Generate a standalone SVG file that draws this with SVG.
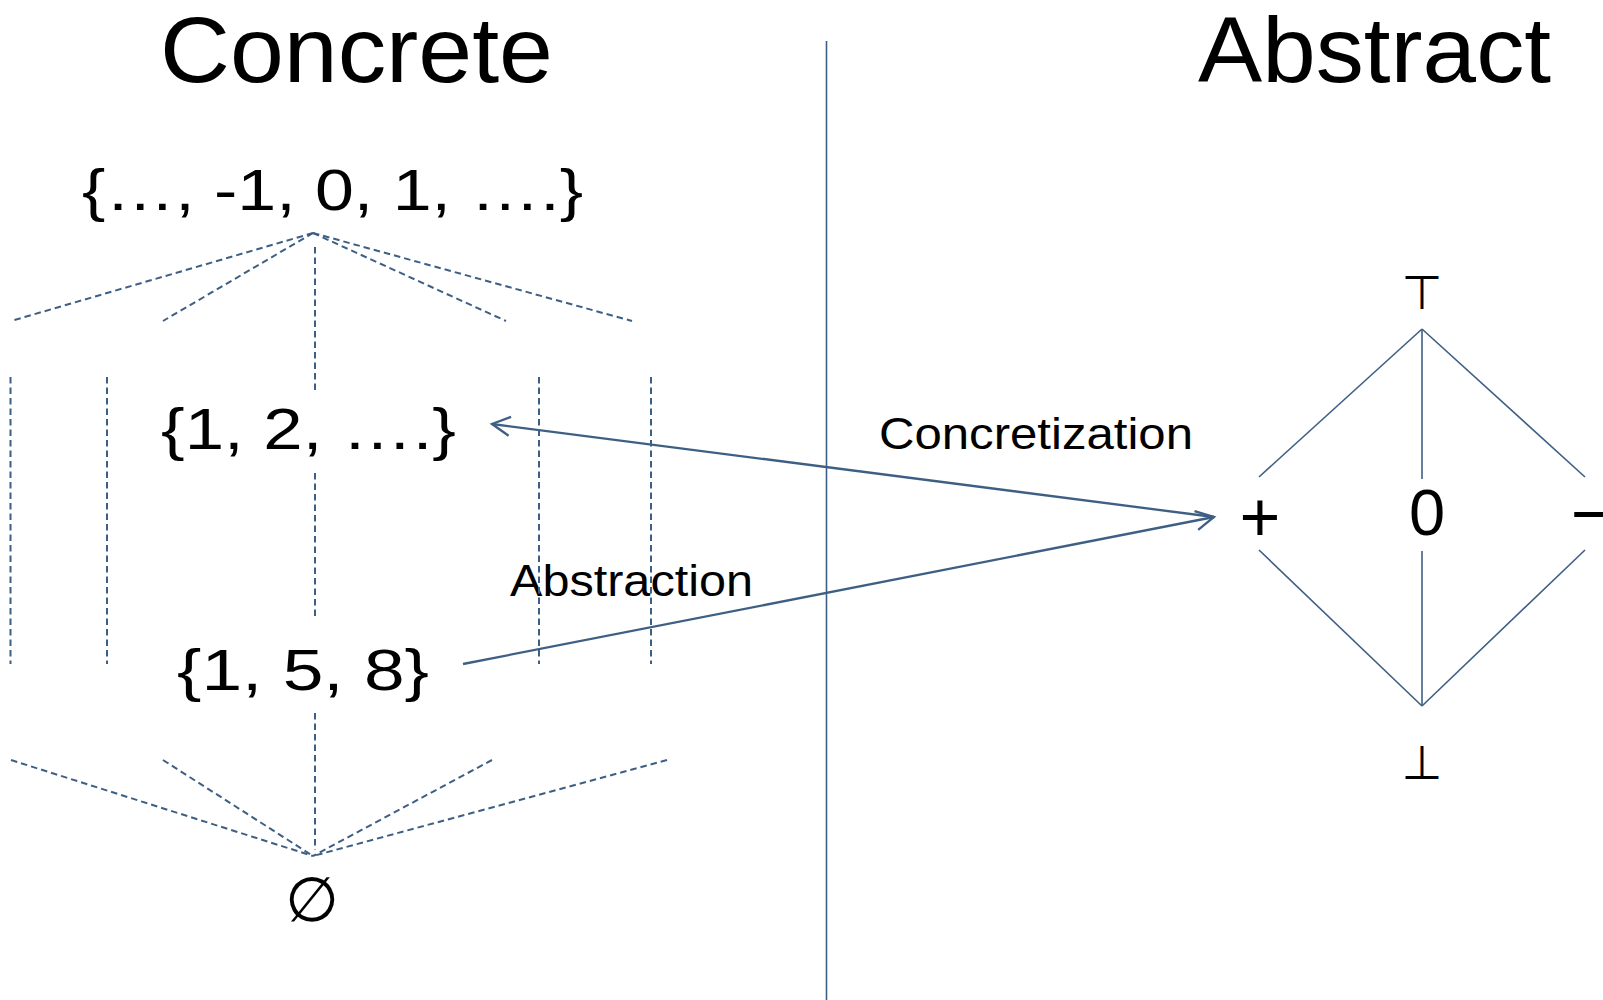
<svg xmlns="http://www.w3.org/2000/svg" width="1603" height="1000" viewBox="0 0 1603 1000">
  <style>
    .title { font-family: "Liberation Sans", Arial, sans-serif; font-size: 92px; fill: #000; }
    .set { font-family: "Liberation Sans", Arial, sans-serif; font-size: 58px; fill: #000; }
    .lbl { font-family: "Liberation Sans", Arial, sans-serif; font-size: 45px; fill: #000; }
    .sym { font-family: "Liberation Sans", "DejaVu Sans", sans-serif; fill: #000; }
    .math { font-family: "DejaVu Sans", sans-serif; fill: #000; }
    .dash { stroke: #3E5F84; stroke-width: 2; stroke-dasharray: 6.5 4; fill: none; }
    .solid { stroke: #3E5F84; stroke-width: 1.6; fill: none; }
    .arrow { stroke: #3E5F84; stroke-width: 2.3; fill: none; marker-end: url(#open); }
  </style>
  <defs>
    <marker id="open" viewBox="-22 -12 26 24" refX="0" refY="0" markerWidth="26" markerHeight="24" markerUnits="userSpaceOnUse" orient="auto">
      <path d="M-18,-9.5 L0,0 L-18,9.5" fill="none" stroke="#3E5F84" stroke-width="2.3"/>
    </marker>
  </defs>

  <rect width="1603" height="1000" fill="#fff"/>

  <!-- headings -->
  <text class="title" x="160" y="82" textLength="393" lengthAdjust="spacingAndGlyphs">Concrete</text>
  <text class="title" x="1198" y="82" textLength="353" lengthAdjust="spacingAndGlyphs">Abstract</text>

  <!-- divider between the two domains -->
  <line class="solid" x1="826.5" y1="41" x2="826.5" y2="1000" stroke-width="1.8"/>

  <!-- concrete lattice nodes -->
  <g id="node-integers">
    <text class="set" x="82" y="210" textLength="501" lengthAdjust="spacingAndGlyphs">{…, -1, 0, 1, ….}</text>
  </g>
  <g id="node-positives">
    <text class="set" x="161" y="449" textLength="295" lengthAdjust="spacingAndGlyphs">{1, 2, ….}</text>
  </g>
  <g id="node-158">
    <text class="set" x="177" y="690" textLength="252" lengthAdjust="spacingAndGlyphs">{1, 5, 8}</text>
  </g>
  <g id="node-empty">
    <text class="math" x="312" y="921" font-size="62" text-anchor="middle">∅</text>
  </g>

  <!-- abstract sign lattice nodes -->
  <g id="node-top">
    <text class="math" x="1422" y="309" font-size="47" text-anchor="middle">⊤</text>
  </g>
  <g id="node-plus">
    <text class="sym" x="1260" y="541" font-size="70" text-anchor="middle">+</text>
  </g>
  <g id="node-zero">
    <text class="sym" x="1427" y="535" font-size="65" text-anchor="middle">0</text>
  </g>
  <g id="node-minus">
    <text class="sym" x="1571" y="538" font-size="70">−</text>
  </g>
  <g id="node-bottom">
    <text class="math" x="1422" y="779" font-size="47" text-anchor="middle">⊥</text>
  </g>

  <!-- edge labels -->
  <text class="lbl" x="879" y="449" textLength="314" lengthAdjust="spacingAndGlyphs">Concretization</text>
  <text class="lbl" x="510" y="596" textLength="243" lengthAdjust="spacingAndGlyphs">Abstraction</text>

  <g id="connectors">
    <!-- upper fan of the powerset lattice -->
    <line class="dash" x1="313" y1="233" x2="11" y2="321"/>
    <line class="dash" x1="313" y1="233" x2="163" y2="321"/>
    <line class="dash" x1="313" y1="233" x2="506" y2="321"/>
    <line class="dash" x1="313" y1="233" x2="632" y2="321"/>
    <line class="dash" x1="315" y1="247" x2="315" y2="394"/>
    <!-- middle columns -->
    <line class="dash" x1="10.5" y1="377" x2="10.5" y2="664"/>
    <line class="dash" x1="107" y1="377" x2="107" y2="664"/>
    <line class="dash" x1="539" y1="377" x2="539" y2="664"/>
    <line class="dash" x1="651" y1="377" x2="651" y2="664"/>
    <line class="dash" x1="315" y1="473" x2="315" y2="616"/>
    <!-- lower fan -->
    <line class="dash" x1="11" y1="760" x2="313" y2="856"/>
    <line class="dash" x1="163" y1="760" x2="313" y2="856"/>
    <line class="dash" x1="492" y1="760" x2="313" y2="856"/>
    <line class="dash" x1="667" y1="760" x2="313" y2="856"/>
    <line class="dash" x1="315" y1="713" x2="315" y2="850"/>

    <!-- sign lattice edges -->
    <line class="solid" x1="1422" y1="329" x2="1259" y2="477"/>
    <line class="solid" x1="1422" y1="329" x2="1422" y2="479"/>
    <line class="solid" x1="1422" y1="329" x2="1585" y2="477"/>
    <line class="solid" x1="1259" y1="550" x2="1422" y2="706"/>
    <line class="solid" x1="1422" y1="551" x2="1422" y2="706"/>
    <line class="solid" x1="1585" y1="550" x2="1422" y2="706"/>

    <!-- Galois connection -->
    <line class="arrow" x1="1214" y1="517" x2="492" y2="424"/>
    <line class="arrow" x1="463" y1="664" x2="1214" y2="517"/>
  </g>
</svg>
